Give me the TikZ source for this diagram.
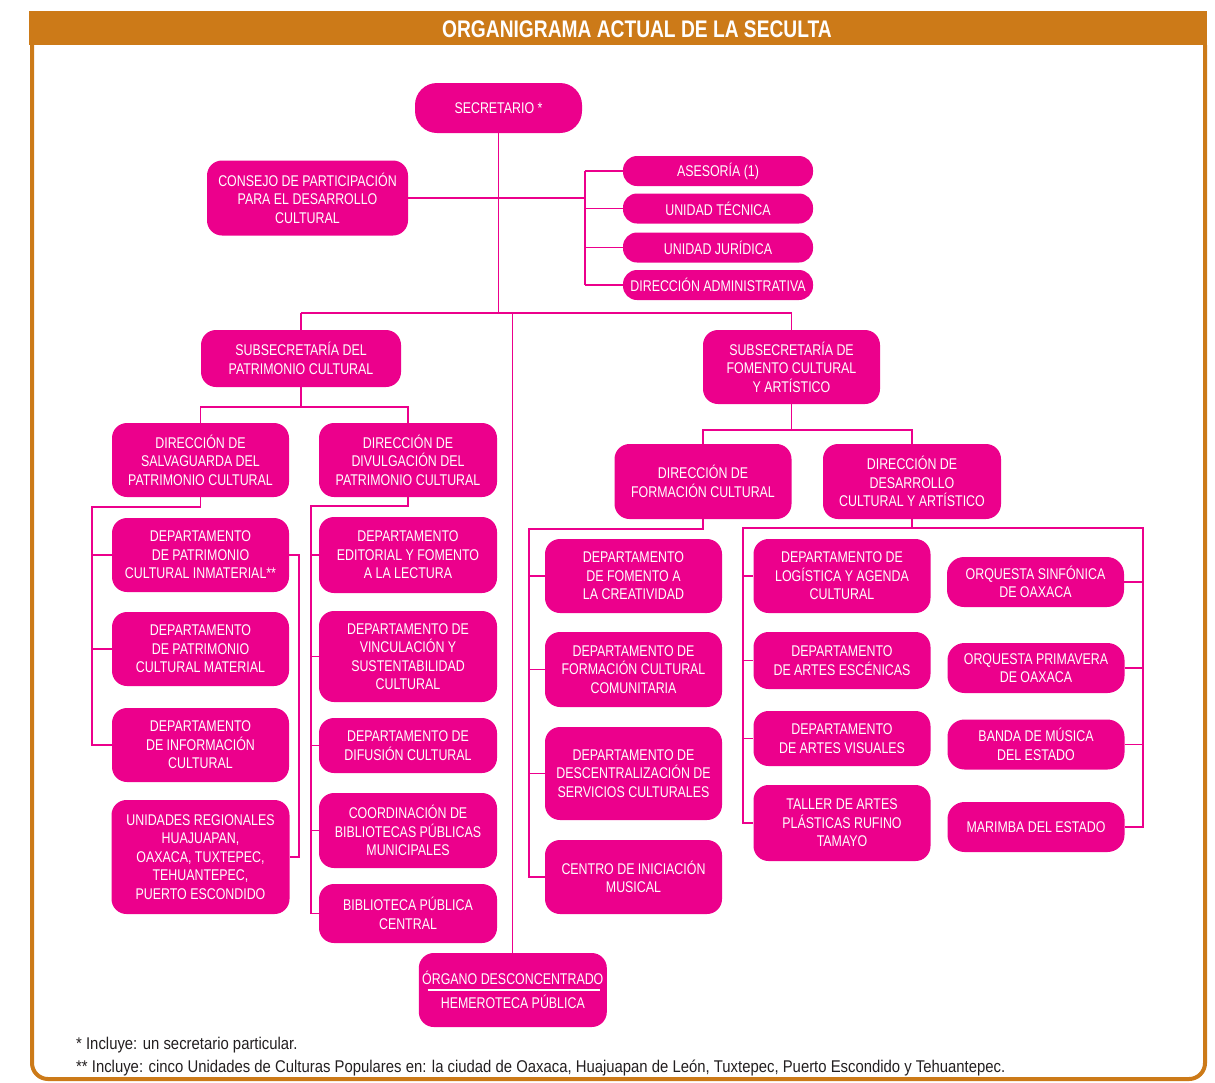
\documentclass[tikz,border=0pt]{standalone}
\usepackage{fontspec}
\newfontfamily\boxfont[FakeStretch=0.80]{Liberation Sans}
\newfontfamily\notefont[FakeStretch=0.875]{Liberation Sans}
\definecolor{pinkc}{RGB}{236,0,140}
\definecolor{orangec}{RGB}{204,122,24}
\definecolor{notec}{RGB}{35,31,32}
\begin{document}
\begin{tikzpicture}[x=1pt,y=-1pt,
  box/.style={fill=pinkc, draw=none, rounded corners=15pt, text=white, align=center, inner sep=0pt,
    font=\boxfont\fontsize{15.5}{18.5}\selectfont},
  pill/.style={box, rounded corners=14pt, minimum width=190pt, minimum height=30pt},
  conn/.style={draw=pinkc, line width=1.2pt},
  note/.style={anchor=west, inner sep=0pt, text=notec, font=\notefont\fontsize{17}{20}\selectfont}]
\useasboundingbox (0,0) rectangle (1215,1082);
% frame
\fill[orangec] (29,11) rectangle (1207,45);
\draw[orangec, line width=4pt, rounded corners=16pt] (32,45) -- (32,1079) -- (1205,1079) -- (1205,45);
\node[text=white, inner sep=0pt, font=\boxfont\bfseries\fontsize{24}{28}\selectfont] (title) at (637,29) {ORGANIGRAMA ACTUAL DE LA SECULTA};

% nodes
\node[box, rounded corners=22pt, minimum width=167pt, minimum height=50pt] (sec) at (498.5,108) {SECRETARIO *};
\node[box, minimum width=201pt, minimum height=75pt] (consejo) at (307.5,198) {CONSEJO DE PARTICIPACIÓN\\PARA EL DESARROLLO\\CULTURAL};
\node[pill] (ases) at (718,171) {ASESORÍA (1)};
\node[pill] (utec) at (718,208.5) {UNIDAD TÉCNICA};
\node[pill] (ujur) at (718,247.5) {UNIDAD JURÍDICA};
\node[pill] (adm) at (718,285) {DIRECCIÓN ADMINISTRATIVA};

\node[box, minimum width=200pt, minimum height=57pt] (subp) at (301,358.5) {SUBSECRETARÍA DEL\\PATRIMONIO CULTURAL};
\node[box, minimum width=177pt, minimum height=74pt] (subf) at (791.5,367) {SUBSECRETARÍA DE\\FOMENTO CULTURAL\\Y ARTÍSTICO};

\node[box, minimum width=177pt, minimum height=74pt] (salv) at (200.5,460) {DIRECCIÓN DE\\SALVAGUARDA DEL\\PATRIMONIO CULTURAL};
\node[box, minimum width=178pt, minimum height=74pt] (divu) at (408,460) {DIRECCIÓN DE\\DIVULGACIÓN DEL\\PATRIMONIO CULTURAL};

\node[box, minimum width=177pt, minimum height=74pt] (inm) at (200.5,555) {DEPARTAMENTO\\DE PATRIMONIO\\CULTURAL INMATERIAL**};
\node[box, minimum width=177pt, minimum height=74pt] (mat) at (200.5,649) {DEPARTAMENTO\\DE PATRIMONIO\\CULTURAL MATERIAL};
\node[box, minimum width=177pt, minimum height=74pt] (info) at (200.5,745) {DEPARTAMENTO\\DE INFORMACIÓN\\CULTURAL};
\node[box, minimum width=178pt, minimum height=114pt] (unid) at (200.5,857) {UNIDADES REGIONALES\\HUAJUAPAN,\\OAXACA, TUXTEPEC,\\TEHUANTEPEC,\\PUERTO ESCONDIDO};

\node[box, minimum width=178pt, minimum height=76pt] (edit) at (408,555) {DEPARTAMENTO\\EDITORIAL Y FOMENTO\\A LA LECTURA};
\node[box, minimum width=178pt, minimum height=91pt] (vinc) at (408,656.5) {DEPARTAMENTO DE\\VINCULACIÓN Y\\SUSTENTABILIDAD\\CULTURAL};
\node[box, minimum width=178pt, minimum height=55pt] (difu) at (408,745.5) {DEPARTAMENTO DE\\DIFUSIÓN CULTURAL};
\node[box, minimum width=178pt, minimum height=75pt] (coord) at (408,830.5) {COORDINACIÓN DE\\BIBLIOTECAS PÚBLICAS\\MUNICIPALES};
\node[box, minimum width=178pt, minimum height=59pt] (bibc) at (408,913.5) {BIBLIOTECA PÚBLICA\\CENTRAL};

\node[box, minimum width=188pt, minimum height=74pt] (org) at (512.8,990) {ÓRGANO DESCONCENTRADO\\[5.5pt]HEMEROTECA PÚBLICA};
\draw[white, line width=1.4pt] ([xshift=9pt]org.west) -- ([xshift=-7pt]org.east);

\node[box, minimum width=177pt, minimum height=75pt] (form) at (703,481.5) {DIRECCIÓN DE\\FORMACIÓN CULTURAL};
\node[box, minimum width=178pt, minimum height=75pt] (desa) at (912,481.5) {DIRECCIÓN DE\\DESARROLLO\\CULTURAL Y ARTÍSTICO};

\node[box, minimum width=177pt, minimum height=74pt] (fomcre) at (633.5,576) {DEPARTAMENTO\\DE FOMENTO A\\LA CREATIVIDAD};
\node[box, minimum width=177pt, minimum height=75pt] (fcc) at (633.5,669.5) {DEPARTAMENTO DE\\FORMACIÓN CULTURAL\\COMUNITARIA};
\node[box, minimum width=177pt, minimum height=93pt] (desc) at (633.5,773.5) {DEPARTAMENTO DE\\DESCENTRALIZACIÓN DE\\SERVICIOS CULTURALES};
\node[box, minimum width=177pt, minimum height=74pt] (cim) at (633.5,877) {CENTRO DE INICIACIÓN\\MUSICAL};

\node[box, minimum width=177pt, minimum height=74pt] (logi) at (842,576) {DEPARTAMENTO DE\\LOGÍSTICA Y AGENDA\\CULTURAL};
\node[box, minimum width=177pt, minimum height=57pt] (esc) at (842,660.5) {DEPARTAMENTO\\DE ARTES ESCÉNICAS};
\node[box, minimum width=177pt, minimum height=55pt] (vis) at (842,738.5) {DEPARTAMENTO\\DE ARTES VISUALES};
\node[box, minimum width=177pt, minimum height=76pt] (taller) at (842,823) {TALLER DE ARTES\\PLÁSTICAS RUFINO\\TAMAYO};

\node[box, rounded corners=17pt, minimum width=177pt, minimum height=50pt] (sinf) at (1035.5,582) {ORQUESTA SINFÓNICA\\DE OAXACA};
\node[box, rounded corners=17pt, minimum width=177pt, minimum height=50pt] (prim) at (1036,668) {ORQUESTA PRIMAVERA\\DE OAXACA};
\node[box, rounded corners=17pt, minimum width=177pt, minimum height=50pt] (banda) at (1036,744.5) {BANDA DE MÚSICA\\DEL ESTADO};
\node[box, rounded corners=17pt, minimum width=177pt, minimum height=50pt] (mar) at (1036,827) {MARIMBA DEL ESTADO};

% helper coordinates
\coordinate (bus) at (0,313);
\coordinate (rb) at (585,0);
\coordinate (pj) at (0,407);
\coordinate (fj) at (0,430);
\coordinate (lb1) at (92,0);
\coordinate (rb1) at (299,0);
\coordinate (lb2) at (311,0);
\coordinate (lb3) at (529,0);
\coordinate (lb4) at (743,0);
\coordinate (rb4) at (1143,0);

% connectors
\draw[conn] (sec.south) -- (sec.south |- bus);
\draw[conn] (subp.north |- bus) -- (subf.north |- bus);
\draw[conn] (subp.north |- bus) -- (subp.north);
\draw[conn] (subf.north |- bus) -- (subf.north);
\draw[conn] (org.north |- bus) -- (org.north);
\draw[conn] (consejo.east) -- (rb |- consejo.east);
\draw[conn] (rb |- ases.west) -- (rb |- adm.west);
\draw[conn] (rb |- ases.west) -- (ases.west);
\draw[conn] (rb |- utec.west) -- (utec.west);
\draw[conn] (rb |- ujur.west) -- (ujur.west);
\draw[conn] (rb |- adm.west) -- (adm.west);

\draw[conn] (subp.south) -- (subp.south |- pj);
\draw[conn] (salv.north) -- (salv.north |- pj) -- (divu.north |- pj) -- (divu.north);

\draw[conn] (salv.south) -- (salv.south |- 0,507) -- (lb1 |- 0,507) -- (lb1 |- info.west) -- (info.west);
\draw[conn] (lb1 |- inm.west) -- (inm.west);
\draw[conn] (lb1 |- mat.west) -- (mat.west);
\draw[conn] (inm.east) -- (rb1 |- inm.east) -- (rb1 |- unid.east) -- (unid.east);

\draw[conn] (divu.south) -- (divu.south |- 0,506) -- (lb2 |- 0,506) -- (lb2 |- bibc.west) -- (bibc.west);
\draw[conn] (lb2 |- edit.west) -- (edit.west);
\draw[conn] (lb2 |- vinc.west) -- (vinc.west);
\draw[conn] (lb2 |- difu.west) -- (difu.west);
\draw[conn] (lb2 |- coord.west) -- (coord.west);

\draw[conn] (subf.south) -- (subf.south |- fj);
\draw[conn] (form.north) -- (form.north |- fj) -- (desa.north |- fj) -- (desa.north);

\draw[conn] (form.south) -- (form.south |- 0,529) -- (lb3 |- 0,529) -- (lb3 |- cim.west) -- (cim.west);
\draw[conn] (lb3 |- fomcre.west) -- (fomcre.west);
\draw[conn] (lb3 |- fcc.west) -- (fcc.west);
\draw[conn] (lb3 |- desc.west) -- (desc.west);

\draw[conn] (desa.south) -- (desa.south |- 0,528);
\draw[conn] (taller.west) -- (lb4 |- taller.west) -- (lb4 |- 0,528) -- (rb4 |- 0,528) -- (rb4 |- mar.east) -- (mar.east);
\draw[conn] (lb4 |- logi.west) -- (logi.west);
\draw[conn] (lb4 |- esc.west) -- (esc.west);
\draw[conn] (lb4 |- vis.west) -- (vis.west);
\draw[conn] (rb4 |- sinf.east) -- (sinf.east);
\draw[conn] (rb4 |- prim.east) -- (prim.east);
\draw[conn] (rb4 |- banda.east) -- (banda.east);

% footnotes
\node[note] (fn1) at (76,1045) {* Incluye: un secretario particular.};
\node[note] (fn2) at (76,1068) {** Incluye: cinco Unidades de Culturas Populares en: la ciudad de Oaxaca, Huajuapan de León, Tuxtepec, Puerto Escondido y Tehuantepec.};
\end{tikzpicture}
\end{document}
